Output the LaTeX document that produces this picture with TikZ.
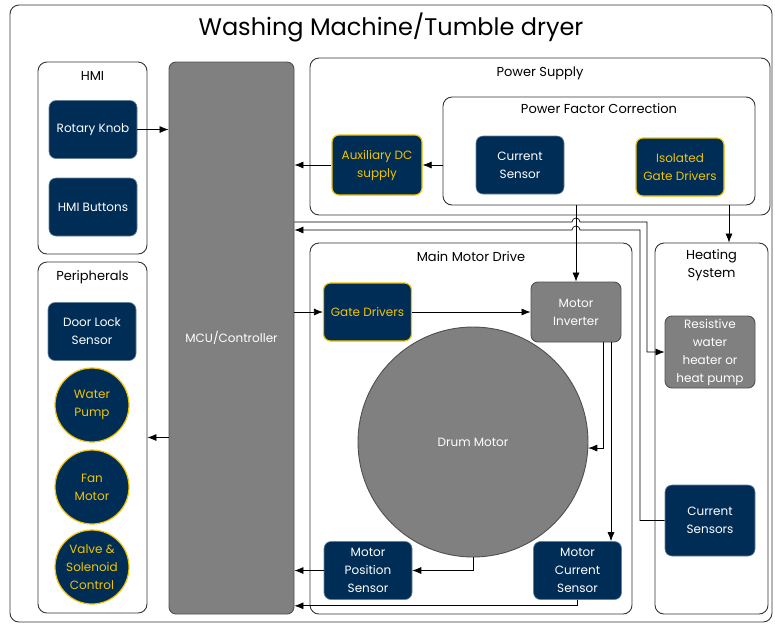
\documentclass[tikz,border=0pt]{standalone}
\usepackage{fontspec}
\setmainfont{Poppins}
\usetikzlibrary{arrows.meta, positioning, calc}
\definecolor{navy}{RGB}{0,45,86}
\definecolor{gold}{RGB}{242,196,0}
\definecolor{midgray}{RGB}{128,128,128}
\definecolor{edgegray}{RGB}{80,80,80}
\tikzstyle{container} = [rectangle, rounded corners=9pt, draw=black!80, line width=0.9pt, fill=white]
\tikzstyle{caption} = [font=\fontsize{13}{18}\selectfont, align=center]
\tikzstyle{navybox} = [rectangle, rounded corners=7pt, minimum width=88, minimum height=58, inner sep=2pt, align=center, draw=navy!60!white, line width=0.6pt, fill=navy, text=white, font=\fontsize{12}{18}\selectfont]
\tikzstyle{goldbox} = [navybox, draw=gold, line width=1.2pt, text=gold]
\tikzstyle{goldcircle} = [circle, minimum size=74, inner sep=0pt, align=center, draw=gold, line width=1.2pt, fill=navy, text=gold, font=\fontsize{12}{18}\selectfont]
\tikzstyle{graybox} = [navybox, draw=edgegray, line width=0.9pt, fill=midgray]
\tikzstyle{arrow} = [->, >={Latex[length=9pt,width=7pt]}, line width=0.7pt]

\begin{document}
\begin{tikzpicture}[x=1pt, y=-1pt]
	\useasboundingbox (0,0) rectangle (775,625);
	% frames
	\node (machine) [container, minimum width=762, minimum height=617] at (391,313.5) {};
	\node (title) [font=\fontsize{24}{28}\selectfont] at ([yshift=-23pt]machine.north) {Washing Machine/Tumble dryer};
	\node (hmi) [container, minimum width=109, minimum height=192] at (92.5,158) {};
	\node (periph) [container, minimum width=109, minimum height=351] at (92.5,437.5) {};
	\node (power) [container, minimum width=460, minimum height=157] at (540,136.5) {};
	\node (pfc) [container, minimum width=312, minimum height=108] at (599,151) {};
	\node (drive) [container, minimum width=322, minimum height=371] at (471,428.5) {};
	\node (heating) [container, minimum width=113, minimum height=371] at (711.5,428.5) {};
	\node (mcu) [graybox, minimum width=125, minimum height=552] at (231.5,338) {MCU/Controller};

	\node (hmititle) [caption, below=6pt of hmi.north] {HMI};
	\node (periphtitle) [caption, below=6pt of periph.north] {Peripherals};
	\node (powertitle) [caption, below=6pt of power.north] {Power Supply};
	\node (pfctitle) [caption, below=4pt of pfc.north] {Power Factor Correction};
	\node (drivetitle) [caption, below=6pt of drive.north] {Main Motor Drive};
	\node (heatingtitle) [caption, below=4pt of heating.north] {Heating\\System};

	% HMI and peripherals
	\node (knob) [navybox] at (93,129.5) {Rotary Knob};
	\node (buttons) [navybox] at (93,207) {HMI Buttons};
	\node (doorlock) [navybox] at (92,331.5) {Door Lock\\Sensor};
	\node (pump) [goldcircle] at (92,405) {Water\\Pump};
	\node (fan) [goldcircle] at (92,487) {Fan\\Motor};
	\node (valve) [goldcircle] at (92,567) {Valve \&\\Solenoid\\Control};

	% power supply
	\node (aux) [goldbox, minimum width=90, minimum height=60] at (377,165) {Auxiliary DC\\supply};
	\node (pfcsensor) [navybox] at (520,165) {Current\\Sensor};
	\node (isogate) [goldbox] at (680,167) {Isolated\\Gate Drivers};

	% motor drive
	\node (gatedrv) [goldbox] at (367.5,312) {Gate Drivers};
	\node (inv) [graybox, minimum width=90, minimum height=60] at (576,312) {Motor\\Inverter};
	\node (drum) [circle, draw=edgegray, line width=0.9pt, fill=midgray, text=white, minimum size=230, font=\fontsize{12}{18}\selectfont] at (473,442) {Drum Motor};
	\node (possens) [navybox] at (368,570.5) {Motor\\Position\\Sensor};
	\node (mcs) [navybox] at (577.5,570.5) {Motor\\Current\\Sensor};

	% heating
	\node (heater) [graybox, minimum width=90, minimum height=72] at (710,352) {Resistive\\water\\heater or\\heat pump};
	\node (heatsens) [navybox, minimum width=90, minimum height=71] at (710,520.5) {Current\\Sensors};

	\coordinate (heatbus) at (647,222);
	\coordinate (sensbus) at (640,230);

	\draw [arrow](knob.east) -- (knob.east -| mcu.west);
	\draw [arrow](mcu.west |- periph.east) -- (periph.east);
	\draw [arrow](aux.west) -- (aux.west -| mcu.east);
	\draw [arrow](pfc.west |- aux.east) -- (aux.east);
	\draw [arrow](inv.north |- pfc.south) -- (inv.north);
	\draw [arrow]([xshift=17.5pt]heating.north |- pfc.south) -- ([xshift=17.5pt]heating.north);
	\draw [arrow](mcu.east |- heatbus) -- ($(inv.north |- heatbus)+(-4,0)$) arc (180:0:4pt) -- (heatbus) -- (heatbus |- heater.west) -- (heater.west);
	\draw [arrow](heatsens.west) -- (sensbus |- heatsens.west) -- (sensbus) -- ($(inv.north |- sensbus)+(4,0)$) arc (0:180:4pt) -- (mcu.east |- sensbus);
	\draw [arrow](mcu.east |- gatedrv.west) -- (gatedrv.west);
	\draw [arrow](gatedrv.east) -- (inv.west);
	\draw [arrow]([xshift=27pt]inv.south) |- (drum.-3);
	\draw [arrow]([xshift=35pt]inv.south) -- ([xshift=35pt]inv.south |- mcs.north);
	\draw [arrow](drum.south) |- (possens.east);
	\draw [arrow](possens.west) -- (possens.west -| mcu.east);
	\draw [arrow](mcs.south) |- ([yshift=-6pt]mcs.south -| mcu.east);
\end{tikzpicture}
\end{document}
